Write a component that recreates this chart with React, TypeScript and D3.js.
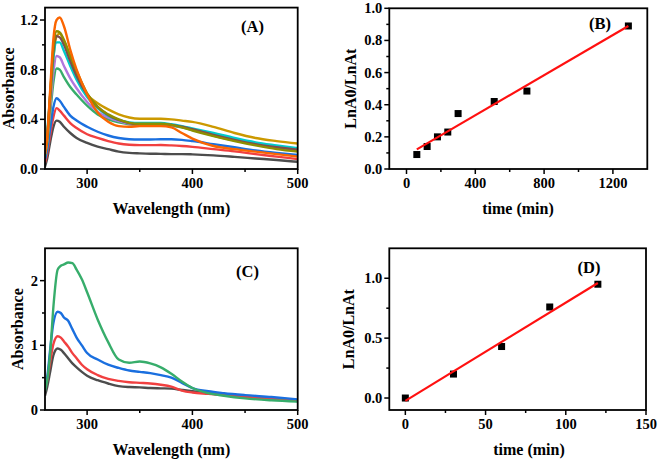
import React from "react";
import * as d3 from "d3";

// ---------- Data ----------
const WAVE_A = [260, 262, 265, 268, 271, 274, 278, 284, 290, 300, 310, 320, 330, 340, 350, 360, 370, 380, 390, 400, 420, 440, 460, 480, 500];
const A_GRAY = [0.02, 0.08, 0.22, 0.34, 0.39, 0.38, 0.34, 0.29, 0.25, 0.21, 0.18, 0.16, 0.14, 0.13, 0.126, 0.123, 0.122, 0.12, 0.12, 0.118, 0.11, 0.098, 0.085, 0.072, 0.058];
const A_RED = [0.05, 0.12, 0.28, 0.42, 0.49, 0.47, 0.43, 0.37, 0.33, 0.28, 0.25, 0.225, 0.205, 0.195, 0.192, 0.192, 0.193, 0.19, 0.185, 0.178, 0.16, 0.142, 0.12, 0.1, 0.08];
const A_BLUE = [0.08, 0.15, 0.33, 0.5, 0.57, 0.55, 0.5, 0.43, 0.39, 0.34, 0.3, 0.27, 0.25, 0.24, 0.238, 0.238, 0.24, 0.24, 0.235, 0.225, 0.2, 0.175, 0.15, 0.13, 0.113];
const A_GREEN = [0.1, 0.2, 0.45, 0.7, 0.81, 0.8, 0.74, 0.66, 0.6, 0.51, 0.44, 0.4, 0.375, 0.36, 0.355, 0.355, 0.355, 0.35, 0.335, 0.315, 0.27, 0.23, 0.2, 0.175, 0.15];
const A_PURPLE = [0.12, 0.22, 0.5, 0.78, 0.91, 0.9, 0.83, 0.73, 0.65, 0.54, 0.46, 0.415, 0.385, 0.365, 0.355, 0.355, 0.355, 0.35, 0.34, 0.32, 0.28, 0.24, 0.205, 0.18, 0.16];
const A_GOLD = [0.12, 0.22, 0.55, 0.9, 1.07, 1.09, 1.03, 0.9, 0.76, 0.6, 0.53, 0.48, 0.44, 0.415, 0.405, 0.405, 0.405, 0.4, 0.39, 0.38, 0.34, 0.29, 0.25, 0.225, 0.205];
const A_CYAN = [0.22, 0.3, 0.6, 0.9, 1.02, 1.02, 0.95, 0.83, 0.72, 0.58, 0.49, 0.43, 0.395, 0.375, 0.37, 0.37, 0.37, 0.36, 0.345, 0.327, 0.29, 0.25, 0.215, 0.19, 0.167];
const A_BROWN = [0.15, 0.25, 0.6, 0.95, 1.07, 1.06, 1.0, 0.87, 0.75, 0.6, 0.5, 0.435, 0.395, 0.37, 0.36, 0.36, 0.36, 0.355, 0.34, 0.32, 0.275, 0.235, 0.2, 0.175, 0.155];
const A_OLIVE = [0.15, 0.25, 0.62, 0.98, 1.11, 1.1, 1.04, 0.91, 0.79, 0.61, 0.5, 0.44, 0.4, 0.372, 0.365, 0.365, 0.365, 0.355, 0.335, 0.31, 0.265, 0.225, 0.19, 0.16, 0.14];
const A_ORANGE = [0.12, 0.25, 0.65, 1.05, 1.2, 1.22, 1.15, 0.96, 0.8, 0.6, 0.455, 0.38, 0.345, 0.34, 0.345, 0.345, 0.345, 0.335, 0.29, 0.245, 0.185, 0.16, 0.14, 0.12, 0.1];

const WAVE_C = [260, 262, 265, 268, 272, 275, 278, 282, 286, 290, 295, 300, 310, 320, 330, 340, 350, 360, 370, 380, 390, 400, 415, 430, 450, 475, 500];
const C_GRAY = [0.22, 0.35, 0.6, 0.85, 0.95, 0.93, 0.88, 0.8, 0.72, 0.66, 0.59, 0.53, 0.46, 0.41, 0.37, 0.355, 0.35, 0.34, 0.335, 0.33, 0.31, 0.29, 0.26, 0.23, 0.2, 0.17, 0.14];
const C_RED = [0.33, 0.45, 0.75, 1.02, 1.14, 1.12, 1.06, 0.98, 0.88, 0.8, 0.7, 0.63, 0.54, 0.48, 0.45, 0.43, 0.42, 0.41, 0.39, 0.36, 0.3, 0.27, 0.25, 0.23, 0.2, 0.17, 0.145];
const C_BLUE = [0.36, 0.5, 0.95, 1.35, 1.52, 1.5, 1.43, 1.38, 1.25, 1.12, 1.0, 0.88, 0.78, 0.7, 0.65, 0.61, 0.59, 0.57, 0.54, 0.5, 0.42, 0.34, 0.29, 0.26, 0.23, 0.2, 0.165];
const C_GREEN = [0.3, 0.45, 0.9, 1.6, 2.17, 2.23, 2.25, 2.28, 2.27, 2.17, 2.02, 1.82, 1.4, 1.05, 0.78, 0.73, 0.75, 0.72, 0.66, 0.56, 0.44, 0.34, 0.26, 0.22, 0.18, 0.15, 0.13];

const B_TIME = [60, 120, 180, 240, 300, 510, 700, 1290];
const B_VALUE = [0.09, 0.14, 0.2, 0.23, 0.345, 0.42, 0.485, 0.89];
const D_TIME = [0, 30, 60, 90, 120];
const D_VALUE = [0, 0.2, 0.43, 0.76, 0.95];

const A_SERIES = [A_GRAY, A_RED, A_BLUE, A_GREEN, A_PURPLE, A_GOLD, A_CYAN, A_BROWN, A_OLIVE, A_ORANGE];
const A_COLORS = ["#4d4d4d", "#F14040", "#1A6FDF", "#37AD6B", "#B177DE", "#CC9900", "#00CBCC", "#7D4E4E", "#8E8E00", "#FB6501"];
const C_SERIES = [C_GRAY, C_RED, C_BLUE, C_GREEN];
const C_COLORS = ["#4d4d4d", "#F14040", "#1A6FDF", "#37AD6B"];

const A_XTICKS = [300, 400, 500];
const A_XMINOR = [350, 450];
const A_YTICKS = [0, 0.4, 0.8, 1.2];
const A_YMINOR = [0.2, 0.6, 1.0];
const B_XTICKS = [0, 400, 800, 1200];
const B_XMINOR = [200, 600, 1000];
const B_YTICKS = [0, 0.2, 0.4, 0.6, 0.8, 1.0];
const B_YMINOR = [0.1, 0.3, 0.5, 0.7, 0.9];
const C_YTICKS = [0, 1, 2];
const C_YMINOR = [0.5, 1.5];
const D_XTICKS = [0, 50, 100, 150];
const D_XMINOR = [25, 75, 125];
const D_YTICKS = [0, 0.5, 1.0];
const D_YMINOR = [0.25, 0.75];

const FONT = "'Liberation Serif', 'Times New Roman', serif";

type Box = { l: number; r: number; t: number; b: number };

function linfit(xs: number[], ys: number[]) {
  const mx = d3.mean(xs)!;
  const my = d3.mean(ys)!;
  let sxy = 0, sxx = 0;
  xs.forEach((x, i) => { sxy += (x - mx) * (ys[i] - my); sxx += (x - mx) * (x - mx); });
  const k = sxy / sxx;
  return { k, b: my - k * mx };
}

function Axes(props: {
  box: Box; x: any; y: any; xt: number[]; xm: number[]; yt: number[]; ym: number[];
  xf: (v: number) => string; yf: (v: number) => string;
}) {
  const { box, x, y, xt, xm, yt, ym, xf, yf } = props;
  return (
    <g>
      {xt.map((v) => (
        <g key={"xt" + v}>
          <line x1={x(v)} x2={x(v)} y1={box.b} y2={box.b + 5} stroke="#000" strokeWidth={1.5} />
          <text x={x(v)} y={box.b + 19} textAnchor="middle" fontFamily={FONT} fontWeight="bold" fontSize={14.5}>{xf(v)}</text>
        </g>
      ))}
      {xm.map((v) => (
        <line key={"xm" + v} x1={x(v)} x2={x(v)} y1={box.b} y2={box.b + 3} stroke="#000" strokeWidth={1.5} />
      ))}
      {yt.map((v) => (
        <g key={"yt" + v}>
          <line x1={box.l - 5} x2={box.l} y1={y(v)} y2={y(v)} stroke="#000" strokeWidth={1.5} />
          <text x={box.l - 7} y={y(v) + 5} textAnchor="end" fontFamily={FONT} fontWeight="bold" fontSize={14.5}>{yf(v)}</text>
        </g>
      ))}
      {ym.map((v) => (
        <line key={"ym" + v} x1={box.l - 3} x2={box.l} y1={y(v)} y2={y(v)} stroke="#000" strokeWidth={1.5} />
      ))}
      <rect x={box.l} y={box.t} width={box.r - box.l} height={box.b - box.t} fill="none" stroke="#000" strokeWidth={1.8} />
    </g>
  );
}

function Spectra(props: { id: string; box: Box; waves: number[]; series: number[][]; colors: string[]; yMax: number; yt: number[]; ym: number[]; yf: (v: number) => string; tag: string; tagX: number; tagY: number; yLabX: number; }) {
  const { id, box, waves, series, colors, yMax, yt, ym, yf, tag, tagX, tagY, yLabX } = props;
  const x = d3.scaleLinear().domain([260, 500]).range([box.l, box.r]);
  const y = d3.scaleLinear().domain([0, yMax]).range([box.b, box.t]);
  const line = d3.line<number>().x((_, i) => x(waves[i])).y((d) => y(d)).curve(d3.curveMonotoneX);
  return (
    <g>
      <defs>
        <clipPath id={id}><rect x={box.l} y={box.t} width={box.r - box.l} height={box.b - box.t} /></clipPath>
      </defs>
      <g clipPath={`url(#${id})`}>
        {series.map((s, i) => (
          <path key={i} d={line(s) || ""} fill="none" stroke={colors[i]} strokeWidth={2.4} strokeLinejoin="round" />
        ))}
      </g>
      <Axes box={box} x={x} y={y} xt={A_XTICKS} xm={A_XMINOR} yt={yt} ym={ym} xf={(v) => String(v)} yf={yf} />
      <text x={(box.l + box.r) / 2} y={box.b + 45} textAnchor="middle" fontFamily={FONT} fontWeight="bold" fontSize={16}>Wavelength (nm)</text>
      <text transform={`translate(${yLabX},${(box.t + box.b) / 2}) rotate(-90)`} textAnchor="middle" fontFamily={FONT} fontWeight="bold" fontSize={16}>Absorbance</text>
      <text x={tagX} y={tagY} textAnchor="middle" fontFamily={FONT} fontWeight="bold" fontSize={16.5}>{tag}</text>
    </g>
  );
}

function Kinetics(props: { box: Box; xd: [number, number]; yd: [number, number]; xs: number[]; ys: number[]; xt: number[]; xm: number[]; yt: number[]; ym: number[]; tag: string; tagX: number; tagY: number; yLabX: number; xLabX: number; }) {
  const { box, xd, yd, xs, ys, xt, xm, yt, ym, tag, tagX, tagY, yLabX, xLabX } = props;
  const x = d3.scaleLinear().domain(xd).range([box.l, box.r]);
  const y = d3.scaleLinear().domain(yd).range([box.b, box.t]);
  const fit = linfit(xs, ys);
  const x0 = d3.min(xs)!;
  const x1 = d3.max(xs)!;
  const m = 7;
  return (
    <g>
      {xs.map((v, i) => (
        <rect key={i} x={x(v) - m / 2} y={y(ys[i]) - m / 2} width={m} height={m} fill="#000" />
      ))}
      <line x1={x(x0)} y1={y(fit.k * x0 + fit.b)} x2={x(x1)} y2={y(fit.k * x1 + fit.b)} stroke="#FF1010" strokeWidth={2.2} />
      <Axes box={box} x={x} y={y} xt={xt} xm={xm} yt={yt} ym={ym} xf={(v) => String(v)} yf={d3.format(".1f")} />
      <text x={xLabX} y={box.b + 45} textAnchor="middle" fontFamily={FONT} fontWeight="bold" fontSize={16}>time (min)</text>
      <text transform={`translate(${yLabX},${(box.t + box.b) / 2}) rotate(-90)`} textAnchor="middle" fontFamily={FONT} fontWeight="bold" fontSize={16}>LnA0/LnAt</text>
      <text x={tagX} y={tagY} textAnchor="middle" fontFamily={FONT} fontWeight="bold" fontSize={16.5}>{tag}</text>
    </g>
  );
}

export default function App() {
  const boxA: Box = { l: 45, r: 297.7, t: 7.6, b: 169 };
  const boxB: Box = { l: 389.3, r: 647.3, t: 8.3, b: 169 };
  const boxC: Box = { l: 45, r: 297.7, t: 248.3, b: 410 };
  const boxD: Box = { l: 389.3, r: 646, t: 248.3, b: 410 };
  return (
    <div style={{ position: "absolute", left: 0, top: 0 }}>
      <svg width={661} height={462} style={{ display: "block", background: "#fff" }}>
        <Spectra id="clipA" box={boxA} waves={WAVE_A} series={A_SERIES} colors={A_COLORS} yMax={1.3}
          yt={A_YTICKS} ym={A_YMINOR} yf={d3.format(".1f")} tag="(A)" tagX={252.5} tagY={32} yLabX={14} />
        <Kinetics box={boxB} xd={[-100, 1400]} yd={[0, 1.0]} xs={B_TIME} ys={B_VALUE} xt={B_XTICKS} xm={B_XMINOR}
          yt={B_YTICKS} ym={B_YMINOR} tag="(B)" tagX={600} tagY={29} yLabX={356} xLabX={518} />
        <Spectra id="clipC" box={boxC} waves={WAVE_C} series={C_SERIES} colors={C_COLORS} yMax={2.5}
          yt={C_YTICKS} ym={C_YMINOR} yf={d3.format("d")} tag="(C)" tagX={247.5} tagY={277} yLabX={23} />
        <Kinetics box={boxD} xd={[-10, 150]} yd={[-0.1, 1.25]} xs={D_TIME} ys={D_VALUE} xt={D_XTICKS} xm={D_XMINOR}
          yt={D_YTICKS} ym={D_YMINOR} tag="(D)" tagX={589} tagY={273} yLabX={354} xLabX={529} />
      </svg>
    </div>
  );
}
